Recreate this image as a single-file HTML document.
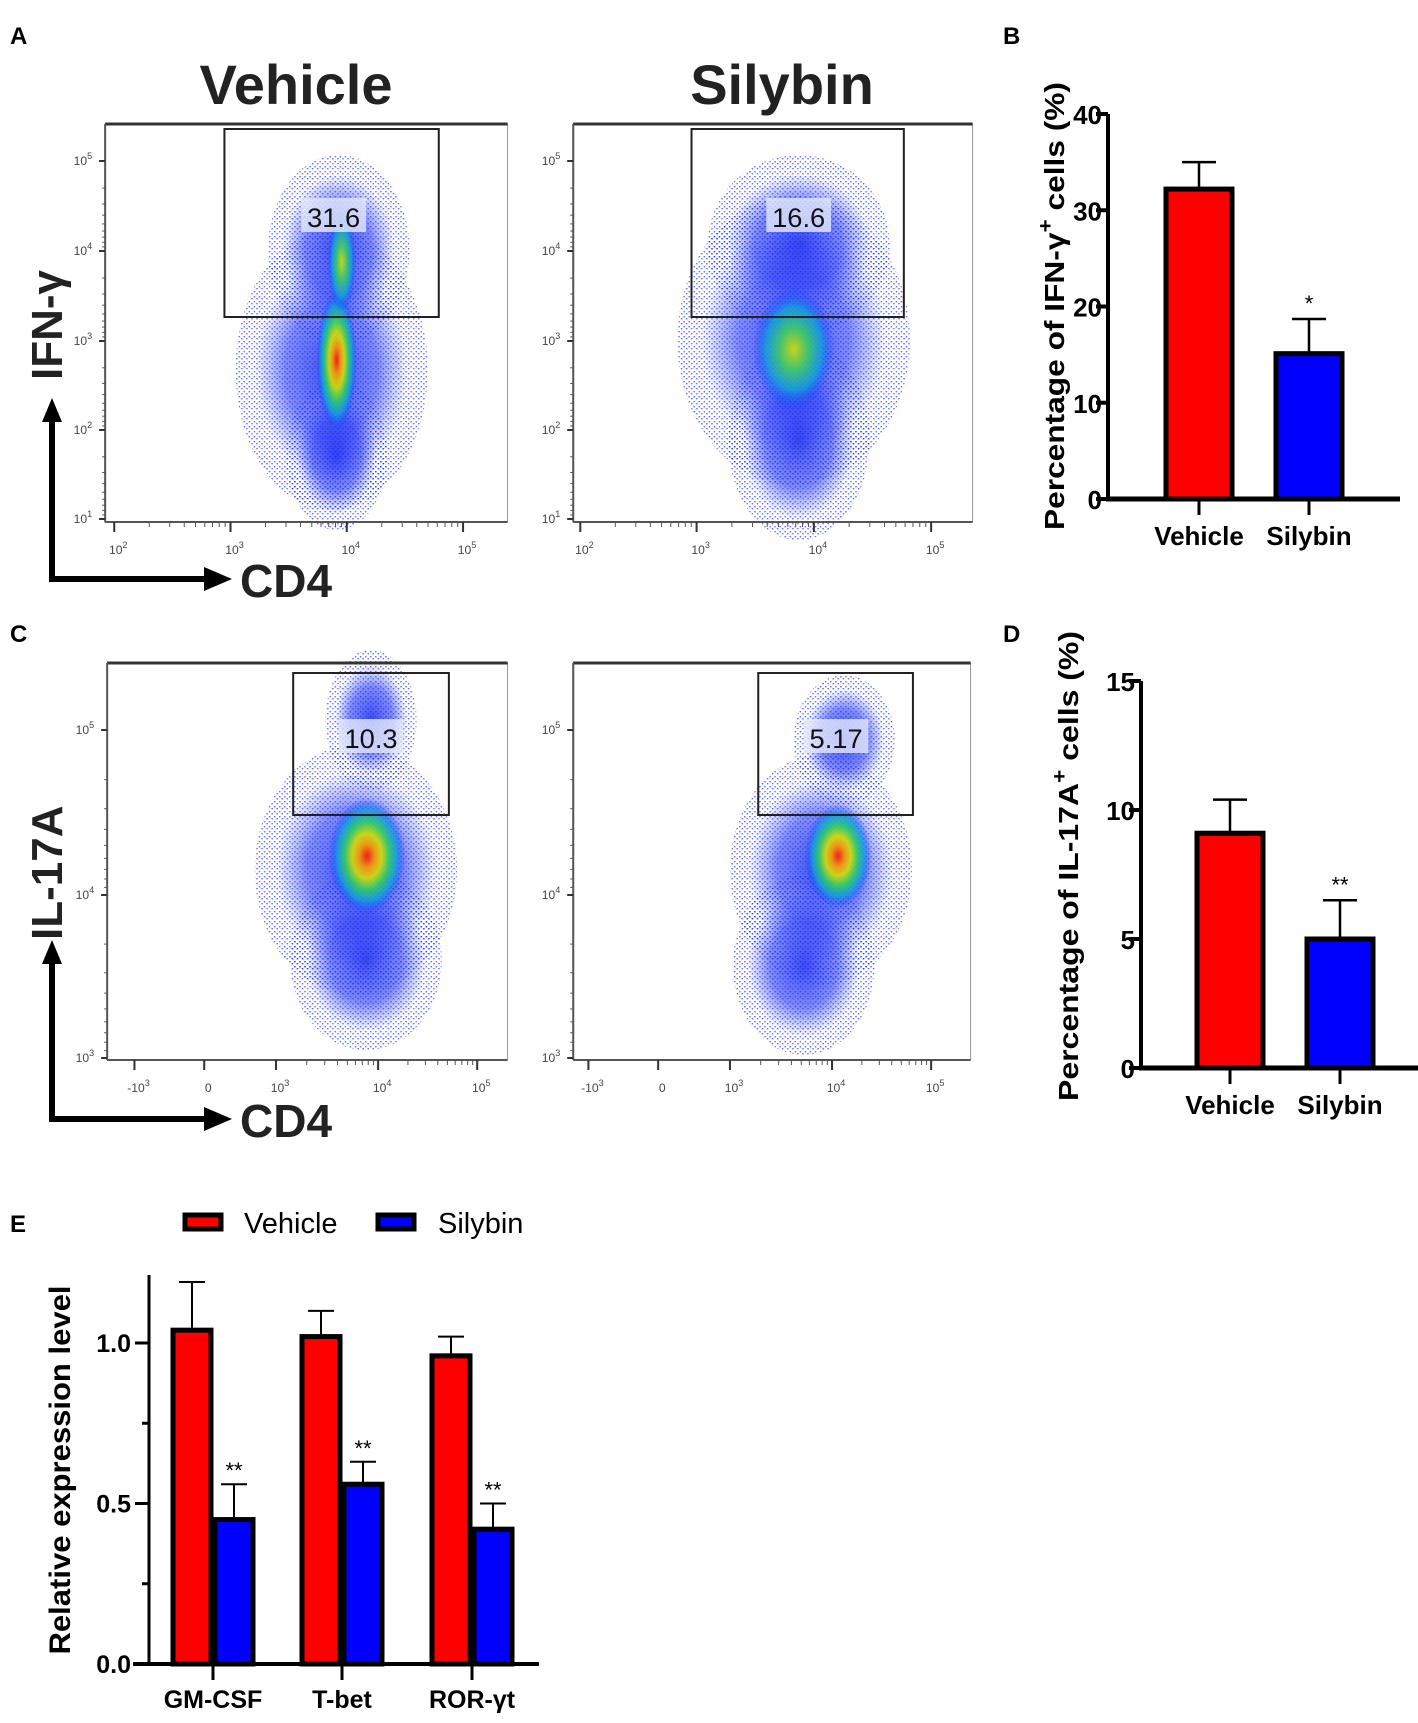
<!DOCTYPE html>
<html><head><meta charset="utf-8">
<style>
html,body{margin:0;padding:0;background:#fff;}
svg{display:block;font-family:"Liberation Sans",Arial,sans-serif;}
</style></head>
<body>
<svg id="fig" width="1418" height="1723" viewBox="0 0 1418 1723" xmlns="http://www.w3.org/2000/svg">
<defs>
<radialGradient id="core" cx="50%" cy="50%" r="50%">
<stop offset="0" stop-color="#ff1a00"/>
<stop offset="0.2" stop-color="#ff9900"/>
<stop offset="0.38" stop-color="#d8e000"/>
<stop offset="0.58" stop-color="#30d060"/>
<stop offset="0.78" stop-color="#10a0e0" stop-opacity="0.9"/>
<stop offset="1" stop-color="#1030ff" stop-opacity="0"/>
</radialGradient>
<radialGradient id="coreG" cx="50%" cy="50%" r="50%">
<stop offset="0" stop-color="#d8e000"/>
<stop offset="0.35" stop-color="#40d060"/>
<stop offset="0.7" stop-color="#10a0e0" stop-opacity="0.9"/>
<stop offset="1" stop-color="#1030ff" stop-opacity="0"/>
</radialGradient>
<radialGradient id="halo" cx="50%" cy="50%" r="50%">
<stop offset="0" stop-color="#1a2cf0" stop-opacity="1"/>
<stop offset="0.6" stop-color="#2a3cf5" stop-opacity="0.7"/>
<stop offset="1" stop-color="#4050ff" stop-opacity="0"/>
</radialGradient>
<pattern id="dots" width="5" height="5" patternUnits="userSpaceOnUse">
<rect x="1" y="1" width="1.4" height="1.4" fill="#1028ff"/>
<rect x="3.5" y="3" width="1.4" height="1.4" fill="#1028ff"/>
</pattern>
</defs>

<text x="10" y="44" font-size="24" font-weight="bold">A</text>
<text x="1003" y="44" font-size="24" font-weight="bold">B</text>
<text x="10" y="642" font-size="24" font-weight="bold">C</text>
<text x="1003" y="642" font-size="24" font-weight="bold">D</text>
<text x="10" y="1232" font-size="24" font-weight="bold">E</text>

<text x="296" y="104" font-size="56" font-weight="bold" fill="#222" text-anchor="middle">Vehicle</text>
<text x="782" y="104" font-size="56" font-weight="bold" fill="#222" text-anchor="middle">Silybin</text>

<g>
<line x1="52" y1="582" x2="52" y2="418" stroke="#000" stroke-width="6"/>
<polygon points="52,398 42,422 62,422" fill="#000"/>
<line x1="49" y1="579" x2="208" y2="579" stroke="#000" stroke-width="6"/>
<polygon points="232,579 204,567 204,591" fill="#000"/>
<text x="240" y="597" font-size="46" font-weight="bold" fill="#222">CD4</text>
<text transform="translate(62,380) rotate(-90)" font-size="44" font-weight="bold" fill="#222">IFN-γ</text>
</g>
<g>
<line x1="52" y1="1122" x2="52" y2="960" stroke="#000" stroke-width="6"/>
<polygon points="52,940 42,964 62,964" fill="#000"/>
<line x1="49" y1="1119" x2="208" y2="1119" stroke="#000" stroke-width="6"/>
<polygon points="232,1119 204,1107 204,1131" fill="#000"/>
<text x="240" y="1137" font-size="46" font-weight="bold" fill="#222">CD4</text>
<text transform="translate(62,940) rotate(-90)" font-size="44" font-weight="bold" fill="#222">IL-17A</text>
</g>

<g id="flow" transform="scale(1.011 1)"></g>
<g id="bars"></g>
</svg>
<script>
// ---------- Bar chart data ----------
const bCategories = ["Vehicle", "Silybin"];
const bValues = [32.2, 15.1];
const bErrors = [35.0, 18.7];
const bTicks = [0, 10, 20, 30, 40];
const bSig = ["", "*"];

const dCategories = ["Vehicle", "Silybin"];
const dValues = [9.1, 5.0];
const dErrors = [10.4, 6.5];
const dTicks = [0, 5, 10, 15];
const dSig = ["", "**"];

const eCategories = ["GM-CSF", "T-bet", "ROR-γt"];
const eVehicle = [1.04, 1.02, 0.96];
const eVehicleErr = [1.19, 1.10, 1.02];
const eSilybin = [0.45, 0.56, 0.42];
const eSilybinErr = [0.56, 0.63, 0.50];
const eSig = ["**", "**", "**"];
const eTicks = [0.0, 0.5, 1.0];
const eMinorTicks = [0.25, 0.75];

// ---------- Flow plot gate values ----------
const gateLabels = ["31.6", "16.6", "10.3", "5.17"];

const NS = "http://www.w3.org/2000/svg";
function mk(tag, attrs, parent) {
  const e = document.createElementNS(NS, tag);
  for (const k in attrs) e.setAttribute(k, attrs[k]);
  parent.appendChild(e);
  return e;
}
const bars = document.getElementById("bars");
const flow = document.getElementById("flow");

function yScale(y0, y1, v0, v1) { return v => y0 + (v - v0) * (y1 - y0) / (v1 - v0); }

function simpleBarChart(g, cats, vals, errs, ticks, sig, ax) {
  const y = yScale(ax.y0, ax.yTop, ticks[0], ticks[ticks.length - 1]);
  const axis = mk("line", {x1: ax.x, y1: y(ticks[ticks.length-1]), x2: ax.x, y2: ax.y0, stroke: "#000", "stroke-width": 4}, g);
  
  
  const xa = mk("line", {x1: ax.x - 2, y1: ax.y0, x2: ax.xEnd, y2: ax.y0, stroke: "#000", "stroke-width": 5}, g);
  
  
  ticks.forEach(t => {
    mk("line", {x1: ax.x - 12, y1: y(t), x2: ax.x, y2: y(t), stroke: "#000", "stroke-width": 4}, g);
    const tl = mk("text", {x: ax.x - 6, y: y(t) + 10, "font-size": 26, "font-weight": "bold", "text-anchor": "end"}, g);
    tl.textContent = t;
    
    
  });
  const colors = ["#ff0000", "#0000ff"];
  cats.forEach((c, i) => {
    const cx = ax.centers[i];
    const w = ax.barW;
    const r = mk("rect", {x: cx - w/2, y: y(vals[i]), width: w, height: ax.y0 - y(vals[i]), fill: colors[i], stroke: "#000", "stroke-width": 5}, g);
    
    
    const eb = mk("path", {d: `M${cx},${y(vals[i])} V${y(errs[i])} M${cx-17},${y(errs[i])} H${cx+17}`, stroke: "#000", "stroke-width": 2.5, fill: "none"}, g);
    
    
    mk("line", {x1: cx, y1: ax.y0, x2: cx, y2: ax.y0 + 16, stroke: "#000", "stroke-width": 3}, g);
    const cl = mk("text", {x: cx, y: ax.y0 + 46, "font-size": 26, "font-weight": "bold", "text-anchor": "middle"}, g);
    cl.textContent = c;
    
    
    if (sig[i]) {
      const s = mk("text", {x: cx, y: y(errs[i]) - 8, "font-size": 22, "text-anchor": "middle"}, g);
      s.textContent = sig[i];
      
      
    }
  });
  const tt = mk("text", {transform: `translate(${ax.titleX},${ax.titleMid}) rotate(-90)`, "font-size": 28, "font-weight": "bold", "text-anchor": "middle", textLength: ax.titleLen, lengthAdjust: "spacingAndGlyphs"}, g);
  tt.innerHTML = ax.title;
  
  
}

const gB = mk("g", {}, bars);


simpleBarChart(gB, bCategories, bValues, bErrors, bTicks, bSig,
  {x: 1108, y0: 499, yTop: 114, xEnd: 1400, centers: [1199, 1309], barW: 66,
   titleX: 1064, titleMid: 306, titleLen: 448,
   title: 'Percentage of IFN-γ<tspan dy="-12" font-size="20">+</tspan><tspan dy="12"> cells (%)</tspan>'});

const gD = mk("g", {}, bars);


simpleBarChart(gD, dCategories, dValues, dErrors, dTicks, dSig,
  {x: 1141, y0: 1068, yTop: 681, xEnd: 1418, centers: [1230, 1340], barW: 66,
   titleX: 1078, titleMid: 866, titleLen: 470,
   title: 'Percentage of IL-17A<tspan dy="-12" font-size="20">+</tspan><tspan dy="12"> cells (%)</tspan>'});

(function () {
  const g = mk("g", {}, bars);
  
  
  const y = yScale(1664, 1343, 0, 1.0);
  const ax = 149;
  const ya = mk("line", {x1: ax, y1: 1275, x2: ax, y2: 1664, stroke: "#000", "stroke-width": 3}, g);
  
  
  const xa = mk("line", {x1: 133, y1: 1664, x2: 539, y2: 1664, stroke: "#000", "stroke-width": 4}, g);
  
  
  eTicks.forEach(t => {
    mk("line", {x1: ax - 14, y1: y(t), x2: ax, y2: y(t), stroke: "#000", "stroke-width": 3}, g);
    const tl = mk("text", {x: ax - 18, y: y(t) + 9, "font-size": 25, "font-weight": "bold", "text-anchor": "end"}, g);
    tl.textContent = t.toFixed(1);
    
    
  });
  eMinorTicks.forEach(t => mk("line", {x1: ax - 7, y1: y(t), x2: ax, y2: y(t), stroke: "#000", "stroke-width": 3}, g));
  const groupX = [213, 342, 472];
  const bw = 38;
  eCategories.forEach((c, i) => {
    const gx = groupX[i];
    [[eVehicle, eVehicleErr, "#ff0000", -bw/2 - 2, "vehicle"], [eSilybin, eSilybinErr, "#0000ff", bw/2 + 2, "silybin"]].forEach(s => {
      const cx = gx + s[3];
      const r = mk("rect", {x: cx - bw/2, y: y(s[0][i]), width: bw, height: 1664 - y(s[0][i]), fill: s[2], stroke: "#000", "stroke-width": 5}, g);
      
      
      const eb = mk("path", {d: `M${cx},${y(s[0][i])} V${y(s[1][i])} M${cx-13},${y(s[1][i])} H${cx+13}`, stroke: "#000", "stroke-width": 2, fill: "none"}, g);
      
      
    });
    const sx = gx + bw/2 + 2;
    const st = mk("text", {x: sx, y: y(eSilybinErr[i]) - 6, "font-size": 22, "text-anchor": "middle"}, g);
    st.textContent = eSig[i];
    
    
    mk("line", {x1: gx, y1: 1664, x2: gx, y2: 1680, stroke: "#000", "stroke-width": 3}, g);
    const cl = mk("text", {x: gx, y: 1708, "font-size": 25, "font-weight": "bold", "text-anchor": "middle"}, g);
    cl.textContent = c;
    
    
  });
  const tt = mk("text", {transform: "translate(70,1470) rotate(-90)", "font-size": 30, "font-weight": "bold", "text-anchor": "middle", textLength: 369, lengthAdjust: "spacingAndGlyphs"}, g);
  tt.textContent = "Relative expression level";
  
  
  const lg = mk("g", {}, g);
  
  
  const le1 = mk("rect", {x: 185, y: 1215, width: 36, height: 14, fill: "#ff0000", stroke: "#000", "stroke-width": 5}, lg);
  
  
  const lt1 = mk("text", {x: 244, y: 1233, "font-size": 29}, lg);
  lt1.textContent = "Vehicle";
  
  
  const le2 = mk("rect", {x: 378, y: 1215, width: 36, height: 14, fill: "#0000ff", stroke: "#000", "stroke-width": 5}, lg);
  
  
  const lt2 = mk("text", {x: 438, y: 1233, "font-size": 29}, lg);
  lt2.textContent = "Silybin";
  
  
})();

function supLabel(g, x, y, base, exp) {
  const t = mk("text", {x: x, y: y, "font-size": 12, fill: "#444", "text-anchor": "middle"}, g);
  t.innerHTML = base + (exp !== "" ? '<tspan dy="-6" font-size="9">' + exp + '</tspan>' : "");
  
  
}
function flowPlot(p) {
  const g = mk("g", {}, flow);
  
  
  mk("rect", {x: p.x0, y: p.y0, width: p.x1 - p.x0, height: p.y1 - p.y0, fill: "#fff", stroke: "#999", "stroke-width": 1}, g);
  const pop = mk("g", {}, g);
  
  
  p.blobs.forEach(b => {
    mk("ellipse", {cx: b[0], cy: b[1], rx: b[2], ry: b[3], fill: "url(#dots)", opacity: 0.7}, pop);
    mk("ellipse", {cx: b[0], cy: b[1], rx: b[2]*0.8, ry: b[3]*0.8, fill: "url(#halo)", opacity: 0.85}, pop);
  });
  p.cores.forEach(c => mk("ellipse", {cx: c[0], cy: c[1], rx: c[2], ry: c[3], fill: c[4] ? "url(#coreG)" : "url(#core)", opacity: 0.9}, pop));
  mk("line", {x1: p.x0, y1: p.y0, x2: p.x1, y2: p.y0, stroke: "#333", "stroke-width": 3}, g);
  mk("line", {x1: p.x0, y1: p.y0, x2: p.x0, y2: p.y1, stroke: "#555", "stroke-width": 2}, g);
  mk("line", {x1: p.x0, y1: p.y1, x2: p.x1, y2: p.y1, stroke: "#555", "stroke-width": 2}, g);
  p.yDec.forEach((yy, i) => {
    mk("line", {x1: p.x0 - 6, y1: yy, x2: p.x0, y2: yy, stroke: "#333", "stroke-width": 2}, g);
    supLabel(g, p.x0 - 22, yy + 4, "10", p.yExp[i]);
    if (i < p.yDec.length - 1) {
      const nx = p.yDec[i + 1];
      for (let k = 2; k <= 9; k++) {
        const ym = yy + (nx - yy) * Math.log10(k);
        mk("line", {x1: p.x0 - 3, y1: ym, x2: p.x0, y2: ym, stroke: "#555", "stroke-width": 1}, g);
      }
    }
  });
  p.xTicks.forEach((xx, i) => {
    mk("line", {x1: xx, y1: p.y1, x2: xx, y2: p.y1 + 10, stroke: "#333", "stroke-width": 2}, g);
    supLabel(g, xx + 4, p.y1 + 32, p.xBase[i], p.xExp[i]);
  });
  p.xMinor.forEach(xx => mk("line", {x1: xx, y1: p.y1, x2: xx, y2: p.y1 + 5, stroke: "#555", "stroke-width": 1}, g));
  const gr = mk("rect", {x: p.gate[0], y: p.gate[1], width: p.gate[2] - p.gate[0], height: p.gate[3] - p.gate[1], fill: "none", stroke: "#222", "stroke-width": 2}, g);
  
  
  mk("rect", {x: p.label[0] - 32, y: p.label[1] - 22, width: 64, height: 34, fill: "#e4e8fa", opacity: 0.8}, g);
  const lt = mk("text", {x: p.label[0], y: p.label[1] + 7, "font-size": 27, fill: "#111", "text-anchor": "middle"}, g);
  lt.textContent = p.text;
  
  
}
function minorLog(decs) {
  const out = [];
  for (let i = 0; i < decs.length - 1; i++)
    for (let k = 2; k <= 9; k++) out.push(decs[i] + (decs[i+1] - decs[i]) * Math.log10(k));
  return out;
}
const aX1 = [113, 228, 343, 458];
const aX2 = [574, 689, 805, 921];
flowPlot({name: "flow-plot-vehicle-ifng", x0: 104, y0: 124, x1: 502, y1: 522,
  yDec: [161, 251, 341, 430, 519], yExp: ["5","4","3","2","1"],
  xTicks: aX1, xBase: ["10","10","10","10"], xExp: ["2","3","4","5"], xMinor: minorLog(aX1),
  blobs: [[328, 370, 95, 140], [335, 250, 70, 95], [333, 455, 50, 75]],
  cores: [[333, 360, 20, 70, 0], [338, 262, 14, 50, 1]],
  gate: [222, 129, 434, 317], label: [330, 220], text: gateLabels[0]});
flowPlot({name: "flow-plot-silybin-ifng", x0: 567, y0: 124, x1: 962, y1: 522,
  yDec: [161, 251, 341, 430, 519], yExp: ["5","4","3","2","1"],
  xTicks: aX2, xBase: ["10","10","10","10"], xExp: ["2","3","4","5"], xMinor: minorLog(aX2),
  blobs: [[785, 340, 115, 145], [790, 245, 90, 90], [790, 440, 70, 100]],
  cores: [[785, 349, 40, 60, 1]],
  gate: [684, 129, 894, 317], label: [790, 220], text: gateLabels[1]});
const cX1 = [133, 202, 273, 374, 472];
const cX2 = [582, 651, 722, 823, 921];
flowPlot({name: "flow-plot-vehicle-il17a", x0: 106, y0: 663, x1: 502, y1: 1060,
  yDec: [730, 895, 1058], yExp: ["5","4","3"],
  xTicks: cX1, xBase: ["-10","0","10","10","10"], xExp: ["3","","3","4","5"], xMinor: minorLog(cX1.slice(2)),
  blobs: [[352, 870, 100, 125], [362, 960, 75, 90], [367, 720, 45, 70]],
  cores: [[363, 856, 38, 58, 0]],
  gate: [290, 673, 444, 815], label: [367, 741], text: gateLabels[2]});
flowPlot({name: "flow-plot-silybin-il17a", x0: 567, y0: 663, x1: 960, y1: 1060,
  yDec: [730, 895, 1058], yExp: ["5","4","3"],
  xTicks: cX2, xBase: ["-10","0","10","10","10"], xExp: ["3","","3","4","5"], xMinor: minorLog(cX2.slice(2)),
  blobs: [[812, 870, 90, 115], [795, 965, 70, 90], [835, 740, 50, 65]],
  cores: [[829, 856, 33, 52, 0]],
  gate: [750, 673, 903, 815], label: [827, 741], text: gateLabels[3]});
</script>
</body></html>
